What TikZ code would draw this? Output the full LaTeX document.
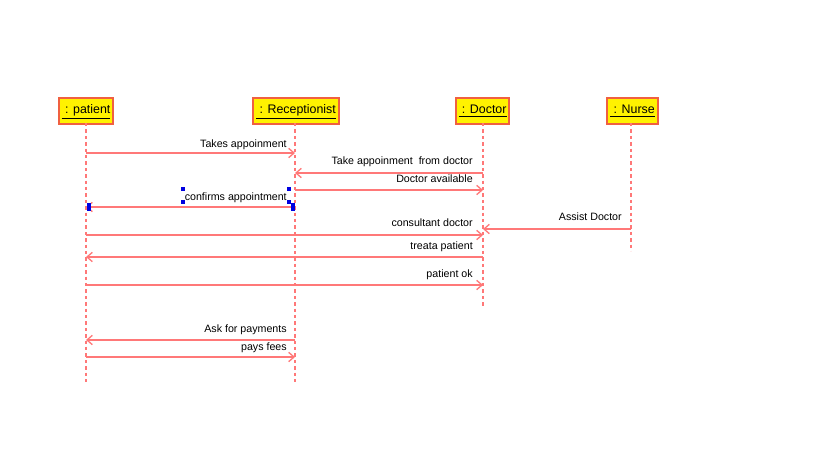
\documentclass[tikz,border=0pt]{standalone}
\usepackage{fontspec}
\setmainfont{Liberation Sans}
\usetikzlibrary{arrows.meta}
\definecolor{lineRed}{HTML}{FF7878}
\definecolor{boxRed}{HTML}{F06040}
\definecolor{handle}{HTML}{0000E0}
\begin{document}
\begin{tikzpicture}[x=0.75pt,y=-0.75pt,
  head/.style={draw=boxRed,line width=1.3pt,fill=yellow,minimum height=19.5pt,inner sep=0pt,anchor=north},
  htxt/.style={font=\fontsize{9.3}{11}\selectfont,anchor=base,inner sep=0pt},
  life/.style={draw=lineRed,line width=1.3pt,dash pattern=on 2.6pt off 2.2pt},
  msg/.style={draw=lineRed,line width=1pt,-{Straight Barb[length=4pt,width=7pt]}},
  lbl/.style={font=\fontsize{8}{10}\selectfont,anchor=base east,inner sep=0pt},
  hdl/.style={fill=handle,draw=none}]
\useasboundingbox (0,0) rectangle (819,460);
% heads
\node[head,minimum width=41pt] (pat) at (86,97) {};
\node[head,minimum width=65pt] (rec) at (296,97) {};
\node[head,minimum width=40pt] (doc) at (482.5,97) {};
\node[head,minimum width=38pt] (nur) at (632.5,97) {};
\node[htxt] (patL) at (86,114) {\underline{\ : patient}};
\node[htxt] (recL) at (296,114) {\underline{\ : Receptionist}};
\node[htxt] (docL) at (482.5,114) {\underline{\ : Doctor}};
\node[htxt] (nurL) at (632.5,114) {\underline{\ : Nurse}};
% lifeline ends
\coordinate (patE) at (86,382);
\coordinate (recE) at (295,382);
\coordinate (docE) at (483,308);
\coordinate (nurE) at (631,251);
\coordinate (patT) at (86,123);
\coordinate (recT) at (295,123);
\coordinate (docT) at (483,123);
\coordinate (nurT) at (631,123);
\draw[life] (patT) -- (patE);
\draw[life] (recT) -- (recE);
\draw[life] (docT) -- (docE);
\draw[life] (nurT) -- (nurE);
% messages
\draw[msg] (patT |- 0,153) -- (recT |- 0,153);
\node[lbl] at (287,147) {Takes appoinment};
\draw[msg] (docT |- 0,173) -- (recT |- 0,173);
\node[lbl] at (473,165) {Take appoinment\ \ from doctor};
\draw[msg] (recT |- 0,190) -- (docT |- 0,190);
\node[lbl] at (473,183) {Doctor available};
\draw[msg] (recT |- 0,207) -- (patT |- 0,207);
\node[lbl] at (287,200) {confirms appointment};
\draw[msg] (nurT |- 0,229) -- (docT |- 0,229);
\node[lbl] at (622,221) {Assist Doctor};
\draw[msg] (patT |- 0,235) -- (docT |- 0,235);
\node[lbl] at (473,227) {consultant doctor};
\draw[msg] (docT |- 0,257) -- (patT |- 0,257);
\node[lbl] at (473,249) {treata patient};
\draw[msg] (patT |- 0,285) -- (docT |- 0,285);
\node[lbl] at (473,277) {patient ok};
\draw[msg] (recT |- 0,340) -- (patT |- 0,340);
\node[lbl] at (287,332) {Ask for payments};
\draw[msg] (patT |- 0,357) -- (recT |- 0,357);
\node[lbl] at (287,350) {pays fees};
% selection handles
\fill[hdl] (181,187) rectangle (185,191);
\fill[hdl] (287,187) rectangle (291,191);
\fill[hdl] (181,200) rectangle (185,204);
\fill[hdl] (287,200) rectangle (291,204);
\fill[hdl] (87,203) rectangle (91,211);
\fill[hdl] (291,203) rectangle (295,211);
\end{tikzpicture}
\end{document}
